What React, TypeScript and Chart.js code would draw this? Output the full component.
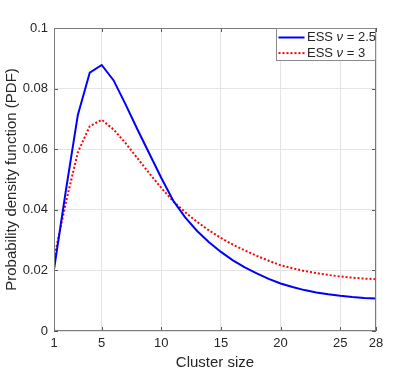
import React, { useEffect, useRef } from "react";
import { Chart, registerables } from "chart.js";

Chart.register(...registerables);

const clusterSizes = [1, 2, 3, 4, 5, 6, 7, 8, 9, 10, 11, 12, 13, 14, 15, 16, 17, 18, 19, 20, 21, 22, 23, 24, 25, 26, 27, 28];
const essNu25 = [0.0203, 0.0465, 0.0713, 0.0853, 0.0878, 0.0827, 0.0748, 0.0665, 0.0585, 0.0505, 0.0430, 0.0375, 0.0330, 0.0293, 0.0261, 0.0233, 0.0210, 0.0190, 0.0172, 0.0157, 0.0145, 0.0135, 0.0127, 0.0121, 0.0116, 0.0112, 0.0109, 0.0107];
const essNu3 = [0.0239, 0.0425, 0.0590, 0.0676, 0.0697, 0.0665, 0.0620, 0.0570, 0.0520, 0.0472, 0.0428, 0.0392, 0.0360, 0.0332, 0.0307, 0.0285, 0.0266, 0.0248, 0.0232, 0.0217, 0.0207, 0.0198, 0.0191, 0.0185, 0.0180, 0.0176, 0.0173, 0.0171];
const seriesLabels = ["ESS ν = 2.5", "ESS ν = 3"];
const xTickValues = [1, 5, 10, 15, 20, 25, 28];
const yTickValues = [0, 0.02, 0.04, 0.06, 0.08, 0.1];
const xTitle = "Cluster size";
const yTitle = "Probability density function (PDF)";

const FONT = "'Liberation Sans', Arial, Helvetica, sans-serif";
const TEXT = "#262626";

const frame = {
  id: "matlabFrame",
  afterDatasetsDraw(chart: any) {
    const { ctx, chartArea: a, scales } = chart;
    const xs = scales.x;
    const ys = scales.y;
    ctx.save();
    ctx.strokeStyle = "#5a5a5a";
    ctx.lineWidth = 1;
    ctx.beginPath();
    for (const v of xTickValues) {
      const p = Math.round(xs.getPixelForValue(v)) + 0.5;
      ctx.moveTo(p, a.bottom);
      ctx.lineTo(p, a.bottom - 4);
      ctx.moveTo(p, a.top);
      ctx.lineTo(p, a.top + 4);
    }
    for (const v of yTickValues) {
      const p = Math.round(ys.getPixelForValue(v)) + 0.5;
      ctx.moveTo(a.left, p);
      ctx.lineTo(a.left + 4, p);
      ctx.moveTo(a.right, p);
      ctx.lineTo(a.right - 4, p);
    }
    ctx.stroke();
    ctx.strokeStyle = "#7a7a7a";
    ctx.strokeRect(a.left + 0.5, a.top + 0.5, a.right - a.left - 1, a.bottom - a.top - 1);
    ctx.restore();
  },
  afterDraw(chart: any) {
    const { ctx, chartArea: a } = chart;
    const w = 100;
    const h = 33;
    const x0 = a.right - w;
    const y0 = a.top;
    ctx.save();
    ctx.fillStyle = "#ffffff";
    ctx.fillRect(x0, y0, w, h);
    ctx.strokeStyle = "#8a8a8a";
    ctx.lineWidth = 1;
    ctx.strokeRect(x0 + 0.5, y0 + 0.5, w - 1, h - 1);
    chart.data.datasets.forEach((ds: any, i: number) => {
      const cy = y0 + 9.5 + i * 15.6;
      ctx.beginPath();
      ctx.strokeStyle = ds.borderColor;
      ctx.lineWidth = ds.borderWidth;
      ctx.setLineDash(ds.borderDash || []);
      ctx.moveTo(x0 + 2.5, cy);
      ctx.lineTo(x0 + 28.5, cy);
      ctx.stroke();
      ctx.setLineDash([]);
      ctx.fillStyle = TEXT;
      ctx.textBaseline = "middle";
      ctx.textAlign = "left";
      const [pre, post] = String(ds.label).split("ν");
      let tx = x0 + 31;
      ctx.font = `13px ${FONT}`;
      ctx.fillText(pre, tx, cy);
      tx += ctx.measureText(pre).width;
      ctx.font = `italic 13px ${FONT}`;
      ctx.fillText("ν", tx, cy);
      tx += ctx.measureText("ν").width;
      ctx.font = `13px ${FONT}`;
      ctx.fillText(post, tx, cy);
    });
    ctx.restore();
  },
};

export default function App() {
  const ref = useRef<HTMLCanvasElement | null>(null);
  useEffect(() => {
    if (!ref.current) return;
    const chart = new Chart(ref.current, {
      type: "line",
      data: {
        datasets: [
          {
            label: seriesLabels[0],
            data: clusterSizes.map((x, i) => ({ x, y: essNu25[i] })),
            borderColor: "#0000ff",
            borderWidth: 2,
            pointRadius: 0,
            tension: 0,
            fill: false,
          },
          {
            label: seriesLabels[1],
            data: clusterSizes.map((x, i) => ({ x, y: essNu3[i] })),
            borderColor: "#ff0000",
            borderWidth: 2,
            borderDash: [2, 2],
            pointRadius: 0,
            tension: 0,
            fill: false,
          },
        ],
      },
      options: {
        animation: false,
        responsive: false,
        layout: { padding: { top: 28, right: 39, left: 0, bottom: 0 } },
        plugins: { legend: { display: false }, tooltip: { enabled: false } },
        scales: {
          x: {
            type: "linear",
            min: 1,
            max: 28,
            afterBuildTicks: (s: any) => {
              s.ticks = xTickValues.map((v) => ({ value: v }));
            },
            afterFit: (s: any) => {
              s.height = 41;
            },
            grid: { color: "#e4e4e4", drawTicks: false },
            border: { display: false },
            ticks: {
              padding: 5,
              color: TEXT,
              font: { family: FONT, size: 13 },
              maxRotation: 0,
              autoSkip: false,
              callback: (v: any) => String(v),
            },
            title: {
              display: true,
              text: xTitle,
              color: TEXT,
              font: { family: FONT, size: 15 },
              padding: { top: 0, bottom: 0 },
            },
          },
          y: {
            min: 0,
            max: 0.1,
            afterBuildTicks: (s: any) => {
              s.ticks = yTickValues.map((v) => ({ value: v }));
            },
            afterFit: (s: any) => {
              s.width = 54;
            },
            grid: { color: "#e4e4e4", drawTicks: false },
            border: { display: false },
            ticks: {
              padding: 6,
              color: TEXT,
              font: { family: FONT, size: 13 },
              callback: (v: any) => (v === 0 ? "0" : String(parseFloat(Number(v).toFixed(2)))),
            },
            title: {
              display: true,
              text: yTitle,
              color: TEXT,
              font: { family: FONT, size: 15 },
              padding: { top: 3, bottom: 0 },
            },
          },
        },
      },
      plugins: [frame],
    } as any);
    return () => chart.destroy();
  }, []);
  return (
    <div style={{ position: "absolute", left: 0, top: 0, width: 415, height: 372, background: "#fff" }}>
      <canvas ref={ref} width={415} height={372} style={{ display: "block" }} />
    </div>
  );
}
